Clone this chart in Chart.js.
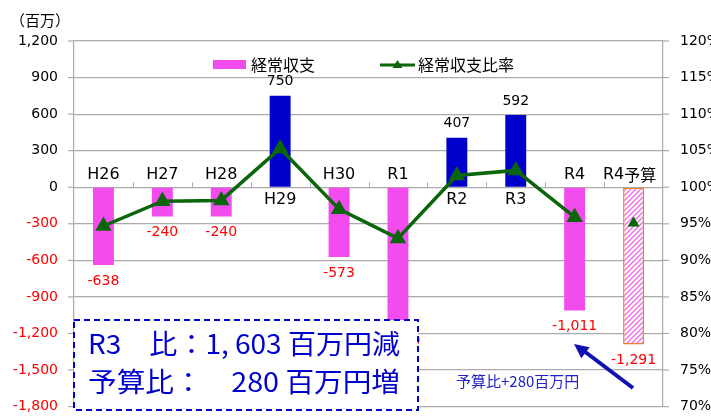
<!DOCTYPE html>
<html>
<head>
<meta charset="utf-8">
<script src="https://cdn.jsdelivr.net/npm/chart.js@4"></script>
<style>
  html, body { margin: 0; padding: 0; background: #fff; }
  #wrap { width: 711px; height: 418px; }
</style>
</head>
<body>
<div id="wrap"><canvas id="chart" width="711" height="418"></canvas></div>
<script>
  // ---- data ----
  var categories = ['H26', 'H27', 'H28', 'H29', 'H30', 'R1', 'R2', 'R3', 'R4', 'R4予算'];
  var balance = [-638, -240, -240, 750, -573, -1130, 407, 592, -1011, -1291];   // 経常収支 (百万)
  var ratio = [94.7, 98.1, 98.2, 105.3, 97.0, 93.0, 101.6, 102.3, 95.9, null]; // 経常収支比率 (%)
  var budgetRatio = [null, null, null, null, null, null, null, null, null, 95.1];
  var leftTicks = [-1800, -1500, -1200, -900, -600, -300, 0, 300, 600, 900, 1200];
  var rightTicks = [70, 75, 80, 85, 90, 95, 100, 105, 110, 115, 120];

  var LAT = '"DejaVu Sans", Verdana, sans-serif';
  var JP = '"Noto Sans CJK JP", "DejaVu Sans", sans-serif';
  var PINK = '#F24BEE', BLUE = '#0000CC', GREEN = '#0B650B', GRID = '#ABABAB';

  var fmt = function (n) { return n.toLocaleString('en-US'); };

  // hatched fill for the budget bar
  function hatch() {
    var p = document.createElement('canvas');
    p.width = 5; p.height = 5;
    var g = p.getContext('2d');
    g.fillStyle = '#fff'; g.fillRect(0, 0, 5, 5);
    g.strokeStyle = '#F06CEC'; g.lineWidth = 1.4;
    g.beginPath();
    g.moveTo(0, 5); g.lineTo(5, 0);
    g.moveTo(-2.5, 2.5); g.lineTo(2.5, -2.5);
    g.moveTo(2.5, 7.5); g.lineTo(7.5, 2.5);
    g.stroke();
    return g.createPattern(p, 'repeat');
  }

  var ctx0 = document.getElementById('chart').getContext('2d');
  var pattern = hatch();
  var barColors = balance.map(function (v, i) {
    if (i === balance.length - 1) return pattern;
    return v < 0 ? PINK : BLUE;
  });
  var barBorders = balance.map(function (v, i) { return i === balance.length - 1 ? '#ED7D31' : 'rgba(0,0,0,0)'; });
  var barBorderW = balance.map(function (v, i) { return i === balance.length - 1 ? 1.5 : 0; });

  var decor = {
    id: 'decor',
    beforeDatasetsDraw: function (chart) {
      // short outer tick marks on both value axes
      var c = chart.ctx, a = chart.chartArea, y = chart.scales.y, y1 = chart.scales.y1;
      c.save();
      c.strokeStyle = GRID; c.lineWidth = 1.2;
      leftTicks.forEach(function (v) {
        var py = y.getPixelForValue(v);
        c.beginPath(); c.moveTo(a.left - 6, py); c.lineTo(a.left, py); c.stroke();
      });
      rightTicks.forEach(function (v) {
        var py = y1.getPixelForValue(v);
        c.beginPath(); c.moveTo(a.right, py); c.lineTo(a.right + 6, py); c.stroke();
      });
      c.restore();
    },
    afterDatasetsDraw: function (chart) {
      var c = chart.ctx, x = chart.scales.x, y = chart.scales.y;
      var zero = y.getPixelForValue(0);
      c.save();
      // small ticks on the zero line between categories
      c.strokeStyle = GRID; c.lineWidth = 1;
      for (var i = 1; i < categories.length; i++) {
        var bx = Math.round((x.getPixelForValue(i - 1) + x.getPixelForValue(i)) / 2) + 0.5;
        c.beginPath(); c.moveTo(bx, zero - 5); c.lineTo(bx, zero); c.stroke();
      }
      // category labels beside the zero line
      c.textAlign = 'center'; c.textBaseline = 'middle';
      categories.forEach(function (lab, i) {
        var cx = x.getPixelForValue(i);
        var ly = balance[i] < 0 ? zero - 12 : zero + 13;
        c.fillStyle = '#000';
        if (lab.indexOf('予算') > 0) {
          c.font = '16px ' + LAT;
          var w1 = c.measureText('R4').width;
          c.font = '16px ' + JP;
          var w2 = c.measureText('予算').width;
          var sx = cx - 4 - (w1 + w2) / 2;
          c.textAlign = 'left';
          c.font = '16px ' + LAT; c.fillText('R4', sx, ly);
          c.font = '16px ' + JP; c.fillText('予算', sx + w1, ly);
          c.textAlign = 'center';
        } else {
          c.font = '16px ' + LAT;
          c.fillText(lab, cx, ly);
        }
      });
      // value labels
      var meta = chart.getDatasetMeta(2);
      c.font = '14px ' + LAT;
      meta.data.forEach(function (bar, i) {
        var v = balance[i];
        if (v < 0) {
          c.fillStyle = '#FF0000';
          c.fillText(fmt(v), bar.x, bar.y + 16);
        } else {
          c.fillStyle = '#000';
          c.fillText(fmt(v), bar.x, bar.y - 14);
        }
      });
      c.restore();
    },
    afterDraw: function (chart) {
      var c = chart.ctx;
      c.save();
      // legend
      c.fillStyle = PINK; c.fillRect(213, 60, 33, 9);
      c.font = '16px ' + JP; c.fillStyle = '#000';
      c.textAlign = 'left'; c.textBaseline = 'middle';
      c.fillText('経常収支', 251, 65);
      c.strokeStyle = GREEN; c.lineWidth = 3;
      c.beginPath(); c.moveTo(380, 65); c.lineTo(415, 65); c.stroke();
      c.fillStyle = GREEN;
      c.beginPath(); c.moveTo(397.5, 60); c.lineTo(402.5, 68); c.lineTo(392.5, 68); c.closePath(); c.fill();
      c.fillStyle = '#000';
      c.fillText('経常収支比率', 418, 65);
      // unit
      c.font = '15px ' + JP;
      c.fillText('（百万）', 10, 20);
      // summary box
      c.fillStyle = '#fff'; c.fillRect(74, 320, 344, 90);
      c.setLineDash([6, 4]); c.strokeStyle = BLUE; c.lineWidth = 2;
      c.strokeRect(74, 320, 344, 90);
      c.setLineDash([]);
      c.fillStyle = BLUE;
      c.font = '27px ' + JP;
      var lines = [['R3　比：1, 603 百万円減', 344, 312], ['予算比：　280 百万円増', 382, 312]];
      lines.forEach(function (ln) {
        var w = c.measureText(ln[0]).width;
        c.save();
        c.translate(88, ln[1]);
        c.scale(ln[2] / w, 1);
        c.fillText(ln[0], 0, 0);
        c.restore();
      });
      // arrow and note
      c.strokeStyle = '#1010B4'; c.fillStyle = '#1010B4'; c.lineWidth = 4;
      var x1 = 633, y1 = 388, x2 = 584, y2 = 351;
      c.beginPath(); c.moveTo(x1, y1); c.lineTo(x2, y2); c.stroke();
      var ang = Math.atan2(y2 - y1, x2 - x1);
      c.beginPath();
      c.moveTo(574, 344);
      c.lineTo(574 - 16 * Math.cos(ang - 0.45), 344 - 16 * Math.sin(ang - 0.45));
      c.lineTo(574 - 16 * Math.cos(ang + 0.45), 344 - 16 * Math.sin(ang + 0.45));
      c.closePath(); c.fill();
      c.fillStyle = '#2222C8';
      c.font = '15px ' + JP;
      c.fillText('予算比+280百万円', 456, 381);
      c.restore();
    }
  };

  new Chart(ctx0, {
    data: {
      labels: categories,
      datasets: [
        { type: 'line', label: '経常収支比率', data: ratio, yAxisID: 'y1', borderColor: GREEN, backgroundColor: GREEN,
          borderWidth: 3.5, pointStyle: 'triangle', pointRadius: 6, tension: 0, spanGaps: false, order: 1 },
        { type: 'line', label: '予算比率', data: budgetRatio, yAxisID: 'y1', showLine: false, borderColor: GREEN,
          backgroundColor: GREEN, pointStyle: 'triangle', pointRadius: 6, order: 1 },
        { type: 'bar', label: '経常収支', data: balance, yAxisID: 'y', backgroundColor: barColors,
          borderColor: barBorders, borderWidth: barBorderW, borderSkipped: false,
          barPercentage: 0.355, categoryPercentage: 1, order: 2 }
      ]
    },
    options: {
      responsive: false,
      animation: false,
      layout: { padding: { top: 41, bottom: 3, left: 0, right: 0 } },
      plugins: { legend: { display: false }, tooltip: { enabled: false } },
      scales: {
        x: { display: false, offset: true },
        y: {
          position: 'left', min: -1800, max: 1200,
          afterBuildTicks: function (s) { s.ticks = leftTicks.map(function (v) { return { value: v }; }); },
          afterFit: function (s) { s.width = 74; },
          grid: { color: GRID, lineWidth: 1.2, tickLength: 13, tickColor: 'rgba(0,0,0,0)' },
          border: { display: true, color: GRID, width: 1.2 },
          ticks: {
            padding: 3, font: { family: LAT, size: 14 },
            color: function (c) { return c.tick && c.tick.value < 0 ? '#FF0000' : '#000'; },
            callback: function (v) { return fmt(v); }
          }
        },
        y1: {
          position: 'right', min: 70, max: 120,
          afterBuildTicks: function (s) { s.ticks = rightTicks.map(function (v) { return { value: v }; }); },
          afterFit: function (s) { s.width = 48; },
          grid: { drawOnChartArea: false, tickLength: 14, color: 'rgba(0,0,0,0)' },
          border: { display: true, color: GRID, width: 1.2 },
          ticks: { padding: 3, color: '#000', font: { family: LAT, size: 14 }, callback: function (v) { return v + '%'; } }
        }
      }
    },
    plugins: [decor]
  });
</script>
</body>
</html>
